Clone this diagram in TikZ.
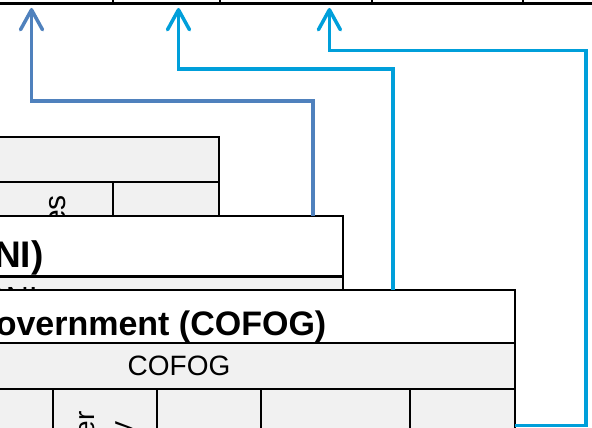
\documentclass[tikz,border=0pt]{standalone}
\usepackage{fontspec}
\setmainfont{Liberation Sans}
\usetikzlibrary{arrows.meta}
\definecolor{xam}{RGB}{241,241,241}
\definecolor{xanhdam}{RGB}{79,129,189}
\definecolor{xanhnhat}{RGB}{0,159,218}
\begin{document}
\begin{tikzpicture}[x=1pt,y=-1pt,line join=miter,>={Straight Barb[length=20pt,width=22pt,round]}]
	\tikzset{hop/.style={draw=black,line width=2.5pt,fill=xam},
	mui/.style={->,line width=3.5pt},
	chu/.style={inner sep=0pt,font=\fontsize{28}{32}\selectfont},
	doc/.style={chu,rotate=90,anchor=base}}
	\def\trai{-300}
	\def\day{520}
	\useasboundingbox(0,0)rectangle(592,428);
	\clip(0,0)rectangle(592,428);
	% bang tren cung
	\draw[line width=3pt](-10,3.2)--(602,3.2);
	\foreach \x in {112.5,219.6,371.7,523.4}
	\draw[line width=2pt](\x,-5)--(\x,3.2);
	\coordinate(t1)at(31.5,8);
	\coordinate(t2)at(178.5,8);
	\coordinate(t3)at(329.4,8);
	% hop sau cung
	\draw[hop](\trai,137)rectangle(219,\day);
	\draw[hop](\trai,182)--(219,182)(113,182)--(113,\day);
	\node[chu,rotate=90,anchor=base east,font=\fontsize{30}{34}\selectfont](dv)at(65,195){Services};
	% hop GNI
	\draw[hop,fill=white](\trai,216)rectangle(343,\day);
	\draw[hop](\trai,276.5)rectangle(343,\day);
	\coordinate(gni)at(313,216);
	\node[chu,anchor=base east,font=\fontsize{37}{42}\bfseries\selectfont](tengni)at(43.6,267){Gross National Income (GNI)};
	\node[chu,anchor=base east,font=\fontsize{32}{36}\selectfont](dongni)at(38,309){GNI};
	% hop COFOG
	\draw[hop,fill=white](\trai,290)rectangle(515,\day);
	\draw[hop](\trai,343)rectangle(515,\day);
	\draw[hop](\trai,389)--(515,389);
	\foreach \x in {53,157,261,410}
	\draw[line width=2.5pt](\x,389)--(\x,\day);
	\coordinate(cofog)at(393,290);
	\coordinate(phai)at(515,425.5);
	\node[chu,anchor=base east,font=\fontsize{34}{38}\bfseries\selectfont](tencofog)at(326.5,335){Classification of the Functions of Government (COFOG)};
	\node[chu,anchor=base](dongcofog)at(179,375){COFOG};
	\node[doc](c2a)at(94,486){Public order};
	\node[doc](c2b)at(130,486){and safety};
	\node[doc](c4a)at(326,558.5){Housing and};
	\node[doc](c4b)at(362,558.5){community amenities};
	% mui ten
	\draw[mui,xanhdam](gni)--++(0,-115)-|(t1);
	\draw[mui,xanhnhat](cofog)--++(0,-221)-|(t2);
	\draw[mui,xanhnhat](phai)-|(586,50.7)-|(t3);
\end{tikzpicture}
\end{document}
